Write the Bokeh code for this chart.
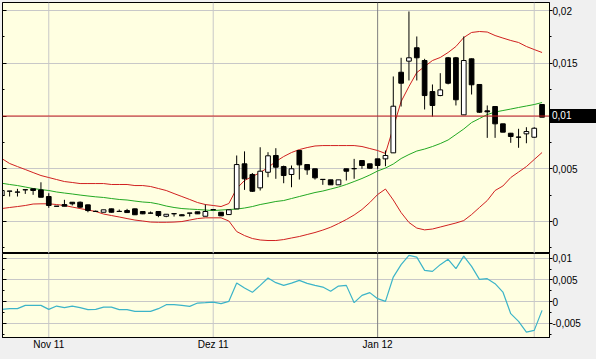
from bokeh.plotting import figure
from bokeh.layouts import column
from bokeh.models import (Range1d, FixedTicker, CustomJSTickFormatter, Span, LinearAxis,
                          ColumnDataSource)
from bokeh.embed import file_html
from bokeh.resources import INLINE

# ---------------- data ----------------
opens = [0.00246, 0.00287, 0.00278, 0.00300, 0.00310, 0.00300, 0.00237, 0.00146, 0.00161, 0.00183,
         0.00183, 0.00158, 0.00097, 0.00088, 0.00120, 0.00097, 0.00104, 0.00120, 0.00095, 0.00081,
         0.00095, 0.00050, 0.00075, 0.00064, 0.00081, 0.00092, 0.00050, 0.00113, 0.00088, 0.00066,
         0.00120, 0.00547, 0.00446, 0.00319, 0.00467, 0.00626, 0.00521, 0.00446, 0.00673, 0.00540,
         0.00500, 0.00400, 0.00395, 0.00348, 0.00500, 0.00502, 0.00578, 0.00547, 0.00594, 0.00594,
         0.00651, 0.01415, 0.01520, 0.01647, 0.01526, 0.01232, 0.01194, 0.01552, 0.01552, 0.01011,
         0.01542, 0.01299, 0.01049, 0.01090, 0.00926, 0.00837, 0.00801, 0.00831, 0.00799, 0.01109]
closes = [0.00294, 0.00289, 0.00280, 0.00302, 0.00294, 0.00230, 0.00152, 0.00144, 0.00145, 0.00168,
          0.00136, 0.00104, 0.00095, 0.00111, 0.00088, 0.00095, 0.00085, 0.00064, 0.00073, 0.00079,
          0.00057, 0.00069, 0.00073, 0.00054, 0.00079, 0.00073, 0.00095, 0.00111, 0.00054, 0.00111,
          0.00540, 0.00405, 0.00287, 0.00477, 0.00623, 0.00515, 0.00436, 0.00500, 0.00537, 0.00490,
          0.00414, 0.00398, 0.00348, 0.00395, 0.00477, 0.00500, 0.00531, 0.00505, 0.00531, 0.00626,
          0.01093, 0.01311, 0.01552, 0.01552, 0.01194, 0.01100, 0.01248, 0.01311, 0.01154, 0.01526,
          0.01296, 0.01036, 0.01040, 0.00926, 0.00847, 0.00806, 0.00799, 0.00853, 0.00884, 0.00989]
highs = [0.00300, 0.00290, 0.00310, 0.00302, 0.00310, 0.00372, 0.00268, 0.00146, 0.00206, 0.00183,
         0.00190, 0.00160, 0.00105, 0.00111, 0.00122, 0.00114, 0.00120, 0.00122, 0.00095, 0.00095,
         0.00095, 0.00069, 0.00075, 0.00069, 0.00081, 0.00092, 0.00161, 0.00113, 0.00088, 0.00114,
         0.00626, 0.00665, 0.00460, 0.00704, 0.00657, 0.00695, 0.00530, 0.00531, 0.00673, 0.00540,
         0.00500, 0.00400, 0.00395, 0.00395, 0.00500, 0.00594, 0.00578, 0.00547, 0.00594, 0.00673,
         0.01375, 0.01552, 0.01991, 0.01754, 0.01542, 0.01299, 0.01406, 0.01560, 0.01560, 0.01754,
         0.01545, 0.01300, 0.01100, 0.01095, 0.00926, 0.00840, 0.00879, 0.00894, 0.00894, 0.01109]
lows = [0.00240, 0.00237, 0.00237, 0.00262, 0.00253, 0.00230, 0.00130, 0.00144, 0.00145, 0.00152,
        0.00130, 0.00088, 0.00093, 0.00088, 0.00085, 0.00093, 0.00085, 0.00062, 0.00070, 0.00077,
        0.00041, 0.00041, 0.00047, 0.00052, 0.00047, 0.00071, 0.00050, 0.00111, 0.00054, 0.00066,
        0.00120, 0.00300, 0.00280, 0.00294, 0.00420, 0.00405, 0.00363, 0.00325, 0.00398, 0.00443,
        0.00398, 0.00348, 0.00348, 0.00348, 0.00389, 0.00405, 0.00500, 0.00500, 0.00500, 0.00524,
        0.00651, 0.01090, 0.01337, 0.01337, 0.01062, 0.00995, 0.01188, 0.01300, 0.01100, 0.01011,
        0.01204, 0.01030, 0.00793, 0.00793, 0.00847, 0.00746, 0.00699, 0.00742, 0.00793, 0.00989]

upper_band = [0.00597, 0.00550, 0.00521, 0.00493, 0.00464, 0.00436, 0.00417, 0.00398, 0.00379, 0.00370,
              0.00360, 0.00360, 0.00360, 0.00360, 0.00351, 0.00351, 0.00351, 0.00341, 0.00341, 0.00332,
              0.00313, 0.00294, 0.00265, 0.00237, 0.00209, 0.00180, 0.00161, 0.00152, 0.00142, 0.00171,
              0.00313, 0.00389, 0.00427, 0.00464, 0.00512, 0.00569, 0.00616, 0.00654, 0.00682, 0.00701,
              0.00716, 0.00720, 0.00720, 0.00720, 0.00720, 0.00720, 0.00711, 0.00692, 0.00673, 0.00645,
              0.00891, 0.01137, 0.01280, 0.01412, 0.01469, 0.01526, 0.01555, 0.01602, 0.01659, 0.01744,
              0.01792, 0.01801, 0.01796, 0.01763, 0.01739, 0.01716, 0.01697, 0.01659, 0.01630, 0.01602]
middle_band = [0.00363, 0.00351, 0.00341, 0.00327, 0.00313, 0.00303, 0.00294, 0.00280, 0.00270, 0.00261,
               0.00251, 0.00242, 0.00234, 0.00228, 0.00218, 0.00209, 0.00204, 0.00194, 0.00185, 0.00180,
               0.00166, 0.00147, 0.00133, 0.00123, 0.00118, 0.00114, 0.00109, 0.00104, 0.00109, 0.00114,
               0.00118, 0.00128, 0.00142, 0.00161, 0.00175, 0.00190, 0.00199, 0.00218, 0.00237, 0.00256,
               0.00275, 0.00289, 0.00308, 0.00327, 0.00351, 0.00379, 0.00408, 0.00441, 0.00479, 0.00507,
               0.00545, 0.00597, 0.00635, 0.00668, 0.00687, 0.00711, 0.00739, 0.00773, 0.00825, 0.00877,
               0.00938, 0.00976, 0.01014, 0.01038, 0.01052, 0.01066, 0.01081, 0.01095, 0.01109, 0.01128]
lower_band = [0.00123, 0.00133, 0.00142, 0.00152, 0.00166, 0.00168, 0.00168, 0.00161, 0.00152, 0.00137,
              0.00123, 0.00109, 0.00095, 0.00071, 0.00057, 0.00043, 0.00028, 0.00014, 0.00005, -0.00005,
              -0.00007, -0.00007, -0.00005, 0.00000, 0.00014, 0.00028, 0.00035, 0.00035, 0.00035, 0.00005,
              -0.00095, -0.00133, -0.00161, -0.00175, -0.00180, -0.00180, -0.00171, -0.00156, -0.00142, -0.00123,
              -0.00104, -0.00081, -0.00054, -0.00019, 0.00019, 0.00062, 0.00114, 0.00180, 0.00256, 0.00308,
              0.00204, 0.00085, -0.00009, -0.00062, -0.00079, -0.00071, -0.00052, -0.00033, -0.00014, 0.00009,
              0.00066, 0.00133, 0.00199, 0.00294, 0.00337, 0.00417, 0.00469, 0.00521, 0.00588, 0.00654]

oscillator = [-0.00177, -0.00161, -0.00161, -0.00085, -0.00085, -0.00085, -0.00177, -0.00101, -0.00138, -0.00101,
              -0.00138, -0.00184, -0.00177, -0.00124, -0.00124, -0.00184, -0.00184, -0.00223, -0.00223, -0.00223,
              -0.00161, -0.00069, -0.00069, -0.00085, -0.00108, -0.00032, -0.00023, -0.00009, -0.00046, 0.00007,
              0.00427, 0.00312, 0.00214, 0.00374, 0.00542, 0.00436, 0.00374, 0.00427, 0.00489, 0.00420,
              0.00374, 0.00335, 0.00237, 0.00358, 0.00374, -0.00023, 0.00145, 0.00207, 0.00069, 0.00007,
              0.00565, 0.00850, 0.01064, 0.01024, 0.00719, 0.00696, 0.00850, 0.00972, 0.00758, 0.01047,
              0.00811, 0.00512, 0.00528, 0.00413, 0.00221, -0.00276, -0.00452, -0.00698, -0.00659, -0.00200]

month_tick_index = [6, 27, 48, 68]
month_labels = ["Nov 11", "Dez 11", "Jan 12", ""]
reference_level = 0.01
price_ticks = [0, 0.005, 0.01, 0.015, 0.02]
price_minor = [-0.0025, 0.0025, 0.0075, 0.0125, 0.0175]
osc_ticks = [-0.005, 0, 0.005, 0.01]
osc_minor = [-0.0075, -0.0025, 0.0025, 0.0075]
last_price_text = "0,01"

# ---------------- styling ----------------
BG = "#F0F0F0"
PLOT_BG = "#FFFFE1"
GRID = "#C8C8C8"
FONT = "Liberation Sans"
FS = "10px"

idx = list(range(len(opens)))
up = [c >= o for o, c in zip(opens, closes)]
src = ColumnDataSource(dict(
    x=idx, o=opens, c=closes, h=highs, l=lows,
    top=[max(o, c) for o, c in zip(opens, closes)],
    bot=[min(o, c) for o, c in zip(opens, closes)],
    fill=["white" if u else "black" for u in up],
))

xr = Range1d(0.09, 69.95)

fmt_js = """
return tick.toFixed(3).replace(/0+$/, '').replace(/\\.$/, '').replace('.', ',');
"""

def style_common(p, ticks, minor):
    p.background_fill_color = PLOT_BG
    p.border_fill_color = BG
    p.outline_line_color = "black"
    p.outline_line_width = 1
    p.xgrid.visible = False
    p.ygrid.grid_line_color = GRID
    p.ygrid.ticker = FixedTicker(ticks=ticks)
    for loc in month_tick_index:
        col = "#808080" if loc == 48 else GRID
        p.add_layout(Span(location=loc, dimension="height", line_color=col,
                          line_width=1, level="underlay"))
    # inner tick marks on the left edge
    lax = LinearAxis(ticker=FixedTicker(ticks=ticks, minor_ticks=minor),
                     formatter=CustomJSTickFormatter(code="return '';"),
                     major_tick_in=4, major_tick_out=0, minor_tick_in=2, minor_tick_out=0,
                     major_label_standoff=0, axis_line_color="black",
                     major_label_text_font_size="1px")
    p.add_layout(lax, "left")
    ax = p.yaxis[0] if p.yaxis[0] is not lax else p.yaxis[1]
    ax.ticker = FixedTicker(ticks=ticks, minor_ticks=minor)
    ax.formatter = CustomJSTickFormatter(code=fmt_js)
    ax.axis_line_color = "black"
    ax.major_tick_out = 3
    ax.major_tick_in = 0
    ax.minor_tick_out = 2
    ax.minor_tick_in = 0
    ax.major_label_standoff = 0
    ax.major_tick_line_color = "black"
    ax.minor_tick_line_color = "black"
    ax.major_label_text_font = FONT
    ax.major_label_text_font_size = FS
    ax.major_label_text_color = "black"
    return ax

# ---------------- main price panel ----------------
p1 = figure(width=596, height=253, x_range=xr, y_range=Range1d(-0.00303, 0.02076),
            output_backend="svg", toolbar_location=None,
            x_axis_location=None, y_axis_location="right",
            min_border_left=2, min_border_right=47, min_border_top=2, min_border_bottom=0)
style_common(p1, price_ticks, price_minor)

p1.add_layout(Span(location=reference_level, dimension="width",
                   line_color="#CC1F1F", line_width=1))

p1.line(idx, upper_band, line_color="#D02020", line_width=1)
p1.line(idx, lower_band, line_color="#D02020", line_width=1)
p1.line(idx, middle_band, line_color="#22A822", line_width=1)

p1.segment(x0="x", y0="l", x1="x", y1="h", source=src, line_color="black", line_width=1)
p1.vbar(x="x", top="top", bottom="bot", width=0.6, source=src,
        fill_color="fill", line_color="black", line_width=1)

# ---------------- oscillator panel ----------------
p2 = figure(width=596, height=106, x_range=xr, y_range=Range1d(-0.00823, 0.01106),
            output_backend="svg", toolbar_location=None,
            x_axis_location="below", y_axis_location="right",
            min_border_left=2, min_border_right=47, min_border_top=0, min_border_bottom=22)
style_common(p2, osc_ticks, osc_minor)
p2.xaxis.ticker = FixedTicker(ticks=month_tick_index)
p2.xaxis.major_label_overrides = {k: v for k, v in zip(month_tick_index, month_labels)}
p2.xaxis.major_tick_out = 0
p2.xaxis.major_tick_in = 0
p2.xaxis.minor_tick_out = 0
p2.xaxis.minor_tick_in = 0
p2.xaxis.major_label_standoff = 1
p2.xaxis.axis_line_color = "black"
p2.xaxis.major_label_text_font = FONT
p2.xaxis.major_label_text_font_size = FS
p2.xaxis.major_label_text_color = "black"

p2.line(idx, oscillator, line_color="#3CB4C8", line_width=1.2)

layout = column(p1, p2, spacing=0)
layout.styles = {"background": BG}

# last-price marker (black box with white value) over the price axis
marker = ('<div style="position:absolute;left:549px;top:109px;width:47px;height:14px;'
          'box-sizing:border-box;padding-left:3px;background:#000;color:#fff;'
          "font-family:'Liberation Sans',sans-serif;font-size:10px;line-height:14px;"
          'z-index:50;">' + last_price_text + '</div>')
html = file_html(layout, INLINE)
html = html.replace("</body>", marker + "\n</body>")
open("out.html", "w").write(html)
